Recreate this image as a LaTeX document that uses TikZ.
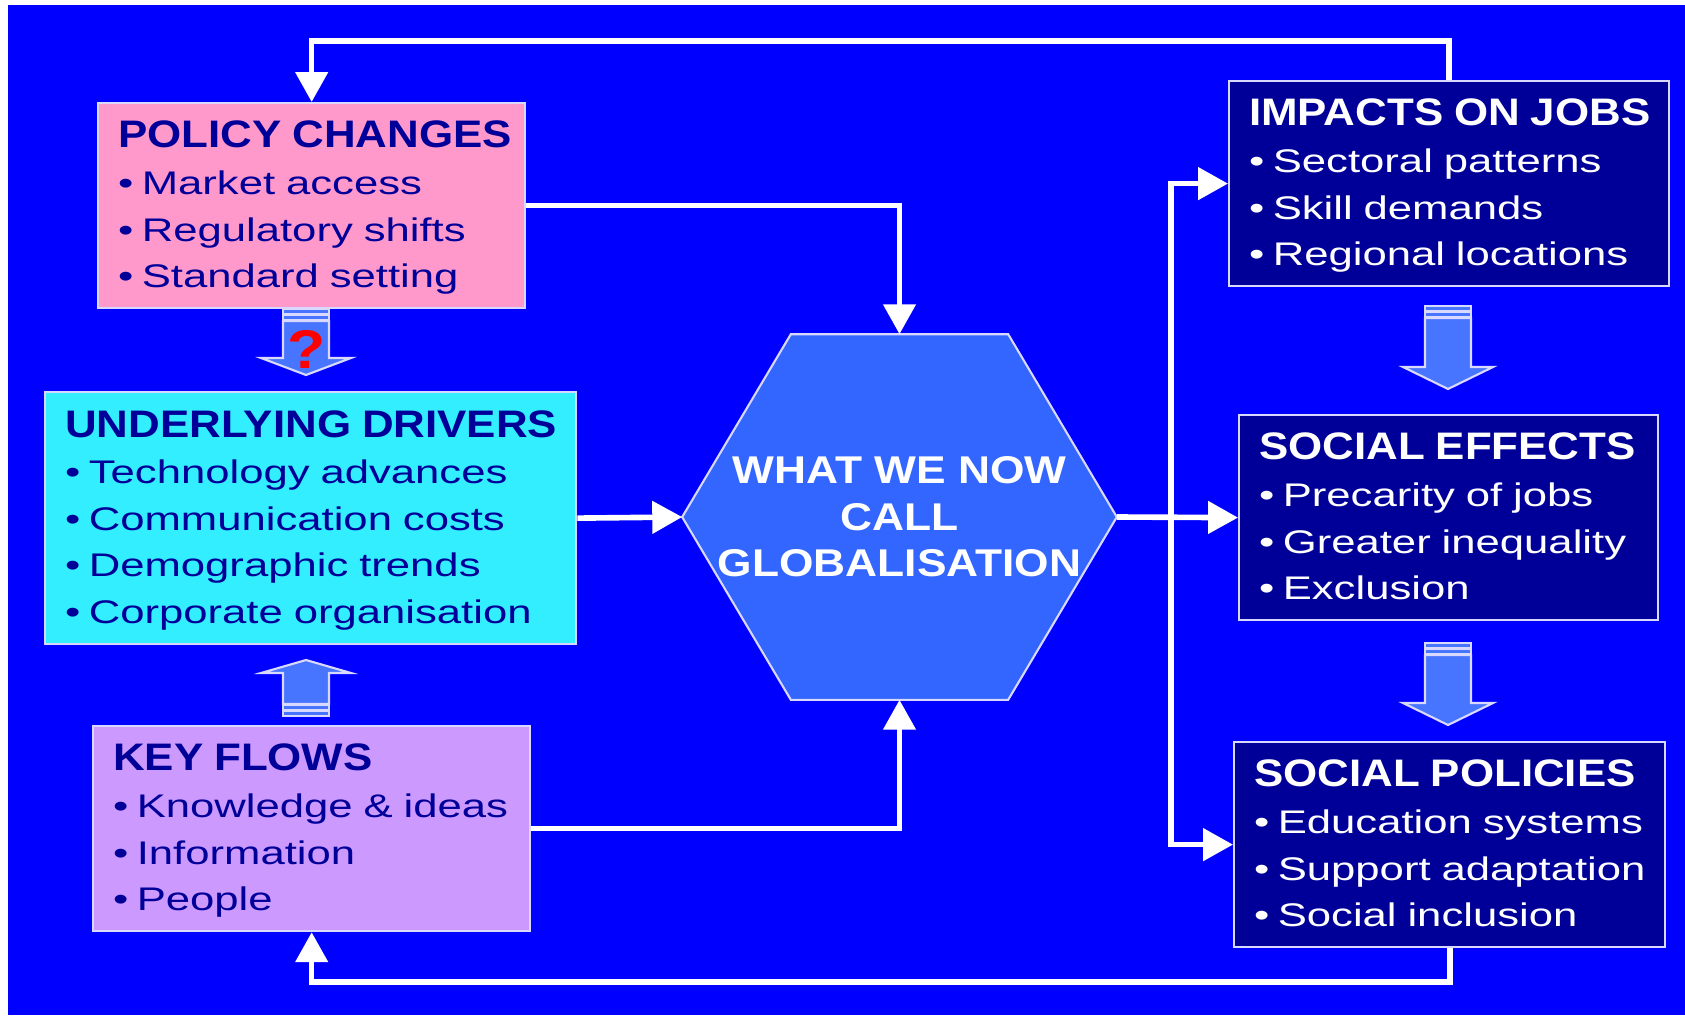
\documentclass[tikz,border=0pt]{standalone}
\usepackage{fontspec}
\setmainfont{Liberation Sans}[FakeStretch=1.335]
\newfontfamily\headfont{Liberation Sans}[FakeStretch=1.145]
\usetikzlibrary{arrows.meta,positioning,calc}
\definecolor{slideblue}{HTML}{0000FF}
\definecolor{policypink}{HTML}{FF99CC}
\definecolor{drivercyan}{HTML}{33EEFF}
\definecolor{flowlilac}{HTML}{CC99FF}
\definecolor{jobnavy}{HTML}{000099}
\definecolor{hexblue}{HTML}{3366FF}
\definecolor{edgelilac}{HTML}{D8D8FF}

\newcommand{\bodysize}{\fontsize{9.3pt}{13.25pt}\selectfont}
\newcommand{\boxhead}[1]{\mbox{\headfont\bfseries\fontsize{10.9pt}{13.25pt}\selectfont #1}}
% one bullet line, same depth whatever the letters
\newcommand{\boxitem}[1]{\\\mbox{•\kern2.4pt\raisebox{0pt}[\height][0.7pt]{#1}}}

% block arrow pointing down from its tail, #1 = length, #2 = head length
\tikzset{
  pics/fatarrow/.style 2 args={code={
    \filldraw[fatfill] (-23,0) rectangle (23,5);
    \filldraw[fatfill] (-23,6) rectangle (23,11);
    \filldraw[fatfill] (-23,12) -- (-23,#1-#2) -- (-45,#1-#2) -- (0,#1)
      -- (45,#1-#2) -- (23,#1-#2) -- (23,12) -- cycle;
  }}
}

\begin{document}
\begin{tikzpicture}[x=0.01cm, y=-0.01cm,
  box/.style={draw=edgelilac, line width=0.6pt, anchor=north west, inner xsep=0.2cm, align=left, font=\bodysize},
  lightbox/.style={box, text=jobnavy},
  darkbox/.style={box, fill=jobnavy, text=white},
  flow/.style={draw=white, line width=1.6pt, -{Triangle[width=9pt,length=8.5pt]}},
  fatfill/.style={fill=hexblue!90!white, draw=white!85!blue, line width=0.6pt},
  qmark/.style={text=red, font=\headfont\bfseries\fontsize{15.5pt}{16pt}\selectfont},
  hubframe/.style={minimum width=4.33cm, minimum height=3.64cm, inner sep=0pt},
  hubtext/.style={text=white, align=center, font=\headfont\bfseries\fontsize{11pt}{13.25pt}\selectfont}
]
\useasboundingbox (0,0) rectangle (1685,1015);
\fill[slideblue] (8,5) rectangle (1685,1015);

% left column
\node[lightbox, fill=policypink, minimum width=4.27cm, minimum height=2.05cm, text width=3.87cm] (policy) at (97,102)
  {\boxhead{POLICY CHANGES}\boxitem{Market access}\boxitem{Regulatory shifts}\boxitem{Standard setting}};
\node[lightbox, fill=drivercyan, minimum width=5.31cm, minimum height=2.52cm, text width=4.91cm] (drivers) at (44,391)
  {\boxhead{UNDERLYING DRIVERS}\boxitem{Technology advances}\boxitem{Communication costs}\boxitem{Demographic trends}\boxitem{Corporate organisation}};
\node[lightbox, fill=flowlilac, minimum width=4.37cm, minimum height=2.05cm, text width=3.97cm] (keyflows) at (92,725)
  {\boxhead{KEY FLOWS}\boxitem{Knowledge \& ideas}\boxitem{Information}\boxitem{People}};

% right column
\node[darkbox, minimum width=4.40cm, minimum height=2.05cm, text width=4.00cm] (impacts) at (1228,80)
  {\boxhead{IMPACTS ON JOBS}\boxitem{Sectoral patterns}\boxitem{Skill demands}\boxitem{Regional locations}};
\node[darkbox, minimum width=4.19cm, minimum height=2.05cm, text width=3.79cm] (effects) at (1238,414)
  {\boxhead{SOCIAL EFFECTS}\boxitem{Precarity of jobs}\boxitem{Greater inequality}\boxitem{Exclusion}};
\node[darkbox, minimum width=4.31cm, minimum height=2.05cm, text width=3.91cm] (socpol) at (1233,741)
  {\boxhead{SOCIAL POLICIES}\boxitem{Education systems}\boxitem{Support adaptation}\boxitem{Social inclusion}};

% hexagon in the middle
\node[hubframe] (hub) at (899.5,517) {};
\filldraw[fill=hexblue, draw=edgelilac, line width=0.6pt] (hub.west)
  -- ($(hub.north)!0.5!(hub.north west)$) -- ($(hub.north)!0.5!(hub.north east)$)
  -- (hub.east)
  -- ($(hub.south)!0.5!(hub.south east)$) -- ($(hub.south)!0.5!(hub.south west)$) -- cycle;
\node[hubtext] (hubtitle) at (hub) {WHAT WE NOW\\CALL\\GLOBALISATION};

% block arrows
\pic at (306,309) {fatarrow={66}{17}};
\node[qmark] (query) at (307,349) {?};
\pic[rotate=180] at (306,716) {fatarrow={56}{13}};
\pic at (1448,306) {fatarrow={83}{22}};
\pic at (1448,643) {fatarrow={82}{22}};

% flow lines
\coordinate (toprail) at (0,41);
\coordinate (bottomrail) at (0,982);
\coordinate (fork) at (1171,517);
\draw[flow] (impacts.north) -- (impacts.north |- toprail) -| (policy.north);
\draw[flow] (socpol.south) -- (socpol.south |- bottomrail) -| (keyflows.south);
\draw[flow] (policy.east) -| (hub.north);
\draw[flow] (keyflows.east) -| (hub.south);
\draw[flow] (drivers.east) -- (hub.west);
\draw[flow] (hub.east) -- (effects.west);
\draw[flow] (fork) |- (impacts.west);
\draw[flow] (fork) |- (socpol.west);
\end{tikzpicture}
\end{document}
